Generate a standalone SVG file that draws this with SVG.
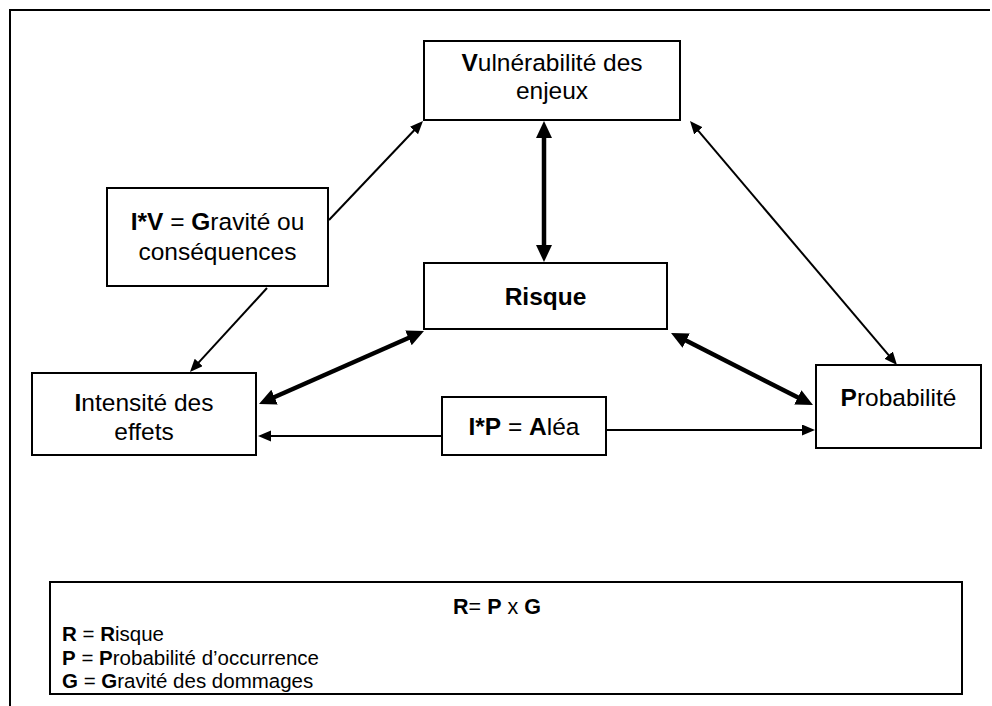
<svg xmlns="http://www.w3.org/2000/svg" width="992" height="706" viewBox="0 0 992 706">
<defs>
<style>
.box{fill:#fff;stroke:#000;stroke-width:2}
text{font-family:"Liberation Sans",Arial,sans-serif;font-size:24.5px;fill:#000}
.c{text-anchor:middle}
.f{font-size:20.5px}
.t{font-size:21.5px}
.b{font-weight:bold}
.thin{stroke:#000;stroke-width:2;fill:none}
.thick{stroke:#000;stroke-width:4.5;fill:none}
</style>
<marker id="ah" markerUnits="userSpaceOnUse" markerWidth="14" markerHeight="12" refX="2" refY="5.5" orient="auto-start-reverse"><path d="M0,0 L13,5.5 L0,11 z" fill="#000"/></marker>
<marker id="ahb" markerUnits="userSpaceOnUse" markerWidth="18" markerHeight="17" refX="3" refY="8" orient="auto-start-reverse"><path d="M0,0 L17,8 L0,16 z" fill="#000"/></marker>
</defs>
<rect width="992" height="706" fill="#fff"/>
<g id="frame"><path d="M10,706 V10 H990" fill="none" stroke="#000" stroke-width="2"/></g>
<g id="connectors">
<line class="thin" x1="329" y1="220" x2="415.4" y2="129" marker-end="url(#ah)"/>
<line class="thin" x1="267" y1="288" x2="197.4" y2="363.9" marker-end="url(#ah)"/>
<line class="thick" x1="544" y1="135" x2="544" y2="248" marker-start="url(#ahb)" marker-end="url(#ahb)"/>
<line class="thick" x1="411.2" y1="336.7" x2="271.8" y2="398.3" marker-start="url(#ahb)" marker-end="url(#ahb)"/>
<line class="thick" x1="683.5" y1="339.3" x2="800.5" y2="398.7" marker-start="url(#ahb)" marker-end="url(#ahb)"/>
<line class="thin" x1="697.1" y1="129.4" x2="889.9" y2="356.6" marker-start="url(#ah)" marker-end="url(#ah)"/>
<line class="thin" x1="442" y1="436" x2="269" y2="436" marker-end="url(#ah)"/>
<line class="thin" x1="606" y1="430" x2="804" y2="430" marker-end="url(#ah)"/>
</g>
<g id="vulnerabilite"><rect class="box" x="424" y="41" width="256" height="79"/>
<text class="c" x="552" y="71"><tspan class="b">V</tspan>ulnérabilité des</text>
<text class="c" x="552" y="99">enjeux</text></g>
<g id="gravite"><rect class="box" x="107" y="188" width="221" height="98"/>
<text class="c" x="217.5" y="230"><tspan class="b">I*V</tspan> = <tspan class="b">G</tspan>ravité ou</text>
<text class="c" x="217.5" y="260">conséquences</text></g>
<g id="risque"><rect class="box" x="424" y="263" width="243" height="66"/>
<text class="c b" x="545.5" y="305">Risque</text></g>
<g id="intensite"><rect class="box" x="32" y="373" width="224" height="82"/>
<text class="c" x="144" y="411"><tspan class="b">I</tspan>ntensité des</text>
<text class="c" x="144" y="440">effets</text></g>
<g id="alea"><rect class="box" x="442" y="397" width="164" height="58"/>
<text class="c" x="524" y="435"><tspan class="b">I*P</tspan> = <tspan class="b">A</tspan>léa</text></g>
<g id="probabilite"><rect class="box" x="816" y="365" width="165" height="83"/>
<text class="c" x="898.5" y="406"><tspan class="b">P</tspan>robabilité</text></g>
<g id="formule"><rect class="box" x="50" y="582" width="912" height="112"/>
<text class="c t" x="497" y="614"><tspan class="b">R</tspan>= <tspan class="b">P</tspan> x <tspan class="b">G</tspan></text>
<text class="f" x="62" y="641"><tspan class="b">R</tspan> = <tspan class="b">R</tspan>isque</text>
<text class="f" x="62" y="665"><tspan class="b">P</tspan> = <tspan class="b">P</tspan>robabilité d’occurrence</text>
<text class="f" x="62" y="688"><tspan class="b">G</tspan> = <tspan class="b">G</tspan>ravité des dommages</text></g>
</svg>
